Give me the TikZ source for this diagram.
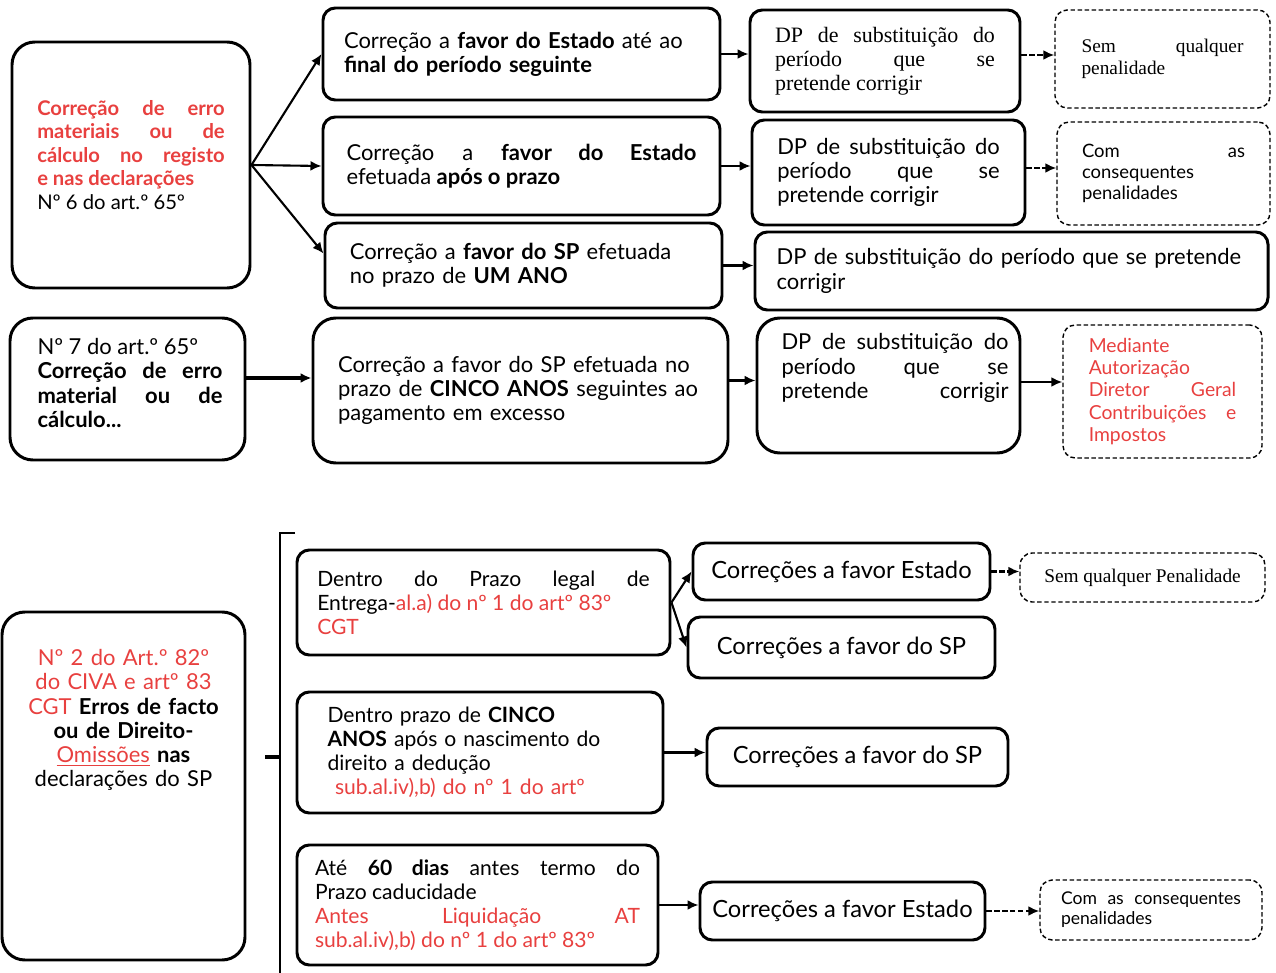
\documentclass[tikz,border=0pt]{standalone}
\usepackage{fontspec}
\setmainfont{Lato}
\newfontfamily\serifx{Liberation Serif}
\usepackage{tikz}
\usetikzlibrary{arrows.meta,positioning,calc}
\definecolor{errRed}{HTML}{E8403F}
\newcommand\txtsize{\fontsize{12.5}{13.8}\selectfont}

\begin{document}
\begin{tikzpicture}[
    x=0.02cm, y=-0.02cm,
    sz/.style 2 args={minimum width=#1*0.02cm, minimum height=#2*0.02cm},
    box/.style={rectangle, draw, line width=1.7pt, rounded corners=7pt,
                inner sep=0pt, font=\txtsize},
    bigbox/.style={box, rounded corners=13pt},
    dbox/.style={rectangle, draw, line width=0.8pt, dash pattern=on 2.5pt off 1.5pt,
                 rounded corners=7pt, inner sep=0pt},
    txt/.style={inner sep=0pt, font=\txtsize},
    corbox/.style={box, font=\fontsize{13.5}{15}\selectfont},
    condbox/.style={box, font=\fontsize{12}{13.6}\selectfont},
    arrow/.style={-{Latex[length=2.2mm,width=2mm]}, line width=1.2pt},
    darrow/.style={arrow, dash pattern=on 3pt off 1.5pt},
]
    \useasboundingbox (0,0) rectangle (1276,973);

    % upper block: n.6 and n.7 of art. 65
    \node[bigbox, sz={238}{246}] (corr6) at (131,165) {};
    \node[txt, text width=3.75cm, align=justify, text=errRed,
          font=\fontsize{11.5}{13.4}\selectfont\bfseries] (corr6txt) at (131,155)
         {Correção de erro\linebreak materiais ou de\linebreak cálculo no registo\linebreak
          e nas declarações\\ \mdseries\color{black}Nº 6 do art.º 65º};

    \node[box, sz={397}{92}, text width=7.1cm, align=left] (fav1) at (521.5,54)
         {Correção a \textbf{favor do Estado} até ao\\ \textbf{final do período seguinte}};
    \node[box, sz={397}{98}, text width=7cm, align=justify] (fav2) at (521.5,166)
         {Correção a \textbf{favor do Estado}\linebreak efetuada \textbf{após o prazo}};
    \node[box, sz={397}{85}, text width=6.95cm, align=left] (fav3) at (523.5,265.5)
         {Correção a \textbf{favor do SP} efetuada\\ no prazo de \textbf{UM ANO}};

    \node[box, sz={270}{102}, text width=4.4cm, align=justify,
          font=\serifx\fontsize{12.5}{13.8}\selectfont] (dp1) at (885,61)
         {DP de substituição do\linebreak período que se\linebreak pretende corrigir};
    \node[box, sz={273}{105}, text width=4.45cm, align=justify] (dp2) at (888.5,172.5)
         {DP de substituição do\linebreak período que se\linebreak pretende corrigir};
    \node[box, sz={513}{78}, text width=9.4cm, align=left] (dp3) at (1011.5,271)
         {DP de substituição do período que se pretende\\ corrigir};

    \node[dbox, sz={215}{98}, text width=3.24cm, align=justify,
          font=\serifx\fontsize{11}{12.5}\selectfont] (pen1) at (1162.5,59)
         {Sem qualquer\linebreak penalidade};
    \node[dbox, sz={213}{103}, text width=3.26cm, align=justify,
          font=\fontsize{10.5}{12}\selectfont] (pen2) at (1163.5,173.5)
         {Com as\linebreak consequentes\\ penalidades};

    \node[bigbox, sz={235}{142}] (corr7) at (127.5,389) {};
    \node[txt, text width=3.7cm, align=justify] (corr7txt) at (130,383)
         {Nº 7 do art.º 65º\\
          \textbf{Correção de erro\linebreak material ou de\linebreak cálculo...}};

    \node[bigbox, sz={415}{145}, text width=7.3cm, align=left] (cinco) at (520.5,390.5)
         {Correção a favor do SP efetuada no\\ prazo de \textbf{CINCO ANOS} seguintes ao\\
          pagamento em excesso};

    \node[bigbox, sz={263}{135}] (dp4) at (888.5,385.5) {};
    \node[txt, text width=4.54cm, align=justify] (dp4txt) at (895,368)
         {DP de substituição do\linebreak período que se\linebreak pretende\hfill corrigir};

    \node[dbox, sz={199}{133}, text width=2.95cm, align=justify, text=errRed,
          font=\fontsize{11}{12.6}\selectfont] (autor) at (1162.5,391.5)
         {Mediante\\ Autorização\\ Diretor Geral\linebreak Contribuições e\linebreak Impostos};

    \draw[arrow] (corr6.east) -- (fav1.west);
    \draw[arrow] (corr6.east) -- (fav2.west);
    \draw[arrow] (corr6.east) -- ([yshift=0.24cm]fav3.west);
    \draw[arrow] (fav1.east) -- (fav1.east -| dp1.west);
    \draw[arrow] (fav2.east) -- (fav2.east -| dp2.west);
    \draw[arrow] (fav3.east) -- (fav3.east -| dp3.west);
    \draw[darrow] ([yshift=0.12cm]dp1.east) -- ([yshift=0.12cm]dp1.east -| pen1.west);
    \draw[darrow] ([yshift=0.09cm]dp2.east) -- ([yshift=0.09cm]dp2.east -| pen2.west);
    \draw[arrow, line width=1.8pt] ([yshift=0.22cm]corr7.east) -- ([yshift=0.22cm]corr7.east -| cinco.west);
    \draw[arrow] ([yshift=0.2cm]cinco.east) -- ([yshift=0.2cm]cinco.east -| dp4.west);
    \draw[arrow] ([yshift=0.07cm]dp4.east) -- ([yshift=0.07cm]dp4.east -| autor.west);

    % lower block: n.2 of art. 82 CIVA
    \node[bigbox, sz={243}{348}] (civa) at (123.5,786) {};
    \node[txt, text width=4.1cm, align=center] (civatxt) at (123.5,720)
         {\color{errRed}Nº 2 do Art.º 82º\\ do CIVA e artº 83\\ CGT
          \color{black}\textbf{Erros de facto}\\ \textbf{ou de Direito-}\\
          \textcolor{errRed}{\underline{Omissões}} \textbf{nas}\\ declarações do SP};

    \coordinate (brTick) at (295,533);
    \coordinate (brTop) at (280,533);
    \coordinate (brBot) at (280,973);
    \coordinate (brMid) at (280,757);
    \coordinate (brIn) at (265,757);
    \draw[line width=1.7pt] (brTick) -- (brTop) -- (brBot);
    \draw[line width=2.2pt] (brIn) -- (brMid);

    \node[condbox, sz={373}{105}, text width=6.65cm, align=justify] (prazo) at (483.5,602.5)
         {Dentro do Prazo legal de\linebreak
          Entrega-\textcolor{errRed}{al.a) do nº 1 do artº 83º}\\ \textcolor{errRed}{CGT}};
    \node[condbox, sz={366}{121}, text width=6.1cm, align=left] (dedu) at (480,752.5)
         {Dentro prazo de \textbf{CINCO}\\ \textbf{ANOS} após o nascimento do\\
          direito a dedução\\ \hspace*{0.15cm}\textcolor{errRed}{sub.al.iv),b) do nº 1 do artº}};
    \node[condbox, sz={361}{120}, text width=6.5cm, align=justify] (dias) at (477.5,905)
         {Até \textbf{60 dias} antes termo do\linebreak Prazo caducidade\\
          \textcolor{errRed}{Antes Liquidação AT\linebreak sub.al.iv),b) do nº 1 do artº 83º}};

    \node[corbox, sz={297}{57}] (est1) at (841.5,571.5) {Correções a favor Estado};
    \node[corbox, sz={307}{61}] (sp1) at (841.5,647.5) {Correções a favor do SP};
    \node[corbox, sz={301}{58}] (sp2) at (857.5,757) {Correções a favor do SP};
    \node[corbox, sz={285}{58}] (est2) at (842.5,911) {Correções a favor Estado};

    \node[dbox, sz={245}{49}, font=\serifx\fontsize{11}{12}\selectfont] (pen3) at (1142.5,577.5)
         {Sem qualquer Penalidade};
    \node[dbox, sz={222}{60}, text width=3.6cm, align=justify,
          font=\fontsize{10}{11.5}\selectfont] (pen4) at (1151,910)
         {Com as consequentes\linebreak penalidades};

    \draw[arrow] (prazo.east) -- (est1.west);
    \draw[arrow] (prazo.east) -- (sp1.west);
    \draw[arrow] (dedu.east) -- (dedu.east -| sp2.west);
    \draw[arrow] (dias.east) -- (dias.east -| est2.west);
    \draw[darrow] (est1.east) -- (est1.east -| pen3.west);
    \draw[darrow] (est2.east) -- (est2.east -| pen4.west);
\end{tikzpicture}
\end{document}
